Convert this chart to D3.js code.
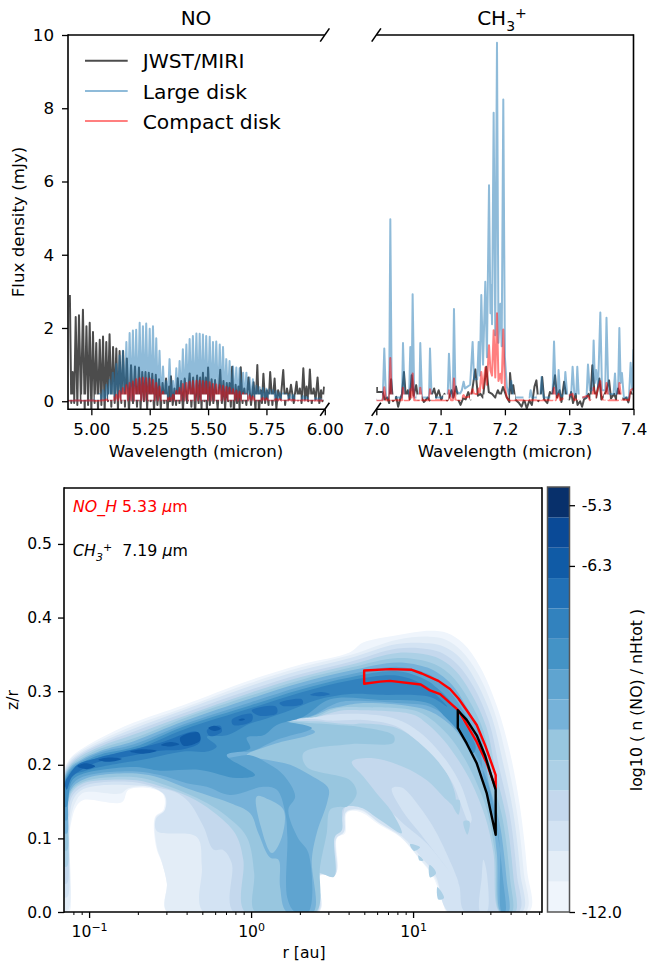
<!DOCTYPE html>
<html>
<head>
<meta charset="utf-8">
<script src="https://cdn.jsdelivr.net/npm/d3@7"></script>
<style>
  body { margin: 0; background: #fff; }
  svg { display: block; }
  text { font-family: "DejaVu Sans", sans-serif; fill: #000; }
  .tick text { font-size: 16.7px; }
  .tick line { stroke: #000; stroke-width: 1.3px; }
  .lower .tick text { font-size: 15.6px; }
  .spine { stroke: #000; stroke-width: 1.6px; fill: none; }
  .spec { fill: none; stroke-linejoin: round; stroke-width: 2px; }
</style>
</head>
<body>
<div id="chart"></div>
<script>
// NO panel: model lines and JWST teeth (wavelength in micron, flux in mJy)
var noModelWave = [
  5.021,5.035,5.050,5.064,5.078,5.092,5.107,5.121,5.135,5.150,
  5.164,5.178,5.192,5.207,5.221,5.235,5.250,5.264,5.278,5.292,
  5.307,5.321,5.335,5.350,5.364,5.378,5.392,5.407,5.421,5.435,
  5.450,5.464,5.478,5.492,5.507,5.521,5.535,5.550,5.564,5.578,
  5.592,5.607,5.621,5.635,5.650,5.664,5.678,5.692,5.707,5.721,
  5.735,5.750,5.764,5.778,5.792,5.807,5.821,5.835,5.850,5.864,
  5.878,5.892,5.907,5.921,5.935,5.950,5.964,5.978,5.992];
var noBluePeak = [
  .12,.2,.3,.45,.58,.78,1.02,1.25,1.38,1.62,
  1.86,1.93,1.95,2.14,2.05,2.12,1.98,2.05,1.72,1.38,
  .95,.55,1.15,.55,.9,1.1,1.42,1.55,1.7,1.78,
  1.85,1.84,1.82,1.78,1.76,1.62,1.63,1.55,1.48,1.15,
  1.1,.95,.92,.9,.78,.78,.65,.6,.42,.38,
  .36,.34,.32,.3,.27,.24,.22,.2,.18,.17,
  .16,.15,.14,.12,.11,.1,.09,.08,.07];
var noRedPeak = [
  .01,.02,.03,.05,.08,.13,.18,.28,.36,.44,
  .5,.54,.6,.63,.64,.63,.62,.58,.5,.4,
  .26,.12,.1,.18,.28,.36,.47,.5,.53,.55,
  .56,.56,.55,.54,.52,.47,.46,.44,.42,.39,
  .37,.33,.29,.26,.22,.19,.16,.13,.11,.1,
  .09,.08,.07,.07,.06,.06,.05,.05,.05,.04,
  .04,.04,.03,.03,.03,.03,.02,.02,.02];
var noJwstWave = [
  4.908,4.920,4.933,4.947,4.964,4.979,4.993,5.007,5.021,5.036,
  5.050,5.064,5.078,5.093,5.107,5.121,5.136,5.152,5.170,5.187,
  5.204,5.218,5.232,5.246,5.261,5.276,5.290,5.305,5.320,5.333,
  5.341,5.356,5.370,5.385,5.400,5.421,5.436,5.453,5.466,5.478,
  5.490,5.500,5.515,5.530,5.552,5.566,5.580,5.592,5.603,5.618,
  5.630,5.640,5.655,5.673,5.695,5.711,5.725,5.737,5.752,5.766,
  5.785,5.800,5.822,5.838,5.855,5.879,5.893,5.908,5.922,5.936,
  5.952,5.969,5.984,5.997];
var noJwstPeak = [
  2.9,.8,2.3,2.35,2.5,2.05,2.14,1.89,1.59,1.68,
  1.77,1.62,1.83,1.48,1.44,1.37,1.37,1.17,.98,.95,
  .92,.8,.8,.78,.75,.72,.6,.5,.62,.4,
  .68,.35,.63,.55,.62,.76,.65,.7,.65,.78,
  .65,.92,.6,.58,.86,.55,.5,.5,.94,.45,
  .4,.93,.35,.65,.52,.99,.3,.75,.3,.8,
  .62,.3,.85,.35,.45,.53,.35,.9,.4,.87,
  .35,.65,.3,.4];
var noJwstLow = [
  -.05,-.05,-.1,-.05,-.25,-.1,-.3,-.05,-.25,-.1,
  -.3,0,-.15,-.05,-.25,-.05,-.15,-.3,-.05,-.15,
  -.2,0,-.2,0,-.25,-.1,-.2,-.05,-.3,0,
  -.1,-.1,-.05,-.25,-.05,-.15,-.3,-.05,-.2,0,
  -.25,-.1,-.05,-.2,-.05,-.2,0,-.15,-.3,-.05,
  -.2,-.05,-.1,-.1,-.25,-.3,-.05,-.05,-.1,-.1,
  -.2,.05,-.1,.05,-.05,.05,-.05,.05,0,-.05,
  .05,-.05,0,.02];

// CH3+ panel, [wavelength, flux]
var chJwst = [[7.001,.39],[7.001,.25],[7.010,.25],[7.013,.05],[7.017,.1],[7.020,-.05],[7.023,.6],[7.026,0],[7.031,.12],[7.034,-.15],
  [7.037,.05],[7.040,.2],[7.043,.8],[7.046,.1],[7.049,.3],[7.052,.05],[7.055,.71],[7.058,.15],[7.062,.44],[7.065,.05],
  [7.070,.12],[7.074,-.02],[7.080,.1],[7.083,.02],[7.090,.35],[7.093,.1],[7.097,.3],[7.101,.05],[7.106,.2],[7.110,.02],
  [7.113,.1],[7.117,.3],[7.120,.1],[7.124,.4],[7.128,.02],[7.131,-.1],[7.135,.08],[7.139,.05],[7.143,.25],[7.147,.05],
  [7.150,.4],[7.154,.87],[7.158,.15],[7.162,.2],[7.166,.1],[7.171,.94],[7.175,.25],[7.180,.2],[7.185,.1],[7.189,.3],
  [7.193,.15],[7.197,.39],[7.203,.1],[7.207,-.02],[7.208,.77],[7.211,.2],[7.213,.44],[7.216,.05],[7.222,-.05],[7.226,-.15],
  [7.230,.05],[7.234,-.2],[7.238,.02],[7.242,-.1],[7.246,.4],[7.249,.57],[7.252,0],[7.256,.2],[7.258,.66],[7.261,.05],
  [7.266,-.05],[7.270,.25],[7.273,.1],[7.278,.71],[7.281,.1],[7.285,.3],[7.288,-.02],[7.292,.53],[7.296,.1],[7.300,.05],
  [7.303,.25],[7.306,-.05],[7.310,.2],[7.313,-.1],[7.317,0],[7.320,-.15],[7.323,.05],[7.327,.1],[7.330,.2],[7.333,.05],
  [7.336,.98],[7.339,.3],[7.342,.1],[7.347,.62],[7.350,.05],[7.354,.15],[7.358,.3],[7.362,.57],[7.365,.08],[7.370,.2],
  [7.373,.05],[7.376,.35],[7.380,.1],[7.385,.05],[7.389,.1],[7.392,-.03],[7.396,.25],[7.399,.1]];
var chBlue = [[7.000,.05],[7.010,.05],[7.0124,1.44],[7.015,.1],[7.020,.1],[7.0218,4.97],[7.024,.1],[7.040,.1],[7.0415,1.59],[7.044,.15],
  [7.051,.15],[7.0529,1.48],[7.055,.3],[7.0565,2.92],[7.059,.1],[7.067,.1],[7.0684,1.59],[7.071,.1],[7.082,.1],[7.0835,1.44],
  [7.086,.1],[7.111,.1],[7.113,1.3],[7.116,.15],[7.119,.1],[7.1208,2.52],[7.123,.3],[7.130,.2],[7.133,.3],[7.1358,.53],
  [7.138,.35],[7.146,.45],[7.1498,1.62],[7.152,.6],[7.157,.6],[7.1592,1.62],[7.161,.7],[7.1633,2.9],[7.166,1.0],[7.1695,3.26],
  [7.172,1.2],[7.1753,5.9],[7.1775,2.4],[7.1788,3.17],[7.180,2.1],[7.1825,7.88],[7.185,1.8],[7.1877,9.79],[7.190,1.6],[7.1929,2.66],
  [7.195,1.5],[7.1975,8.24],[7.200,1.2],[7.203,.4],[7.206,.2],[7.210,.55],[7.213,.1],[7.238,.1],[7.240,.3],[7.242,.1],
  [7.255,.1],[7.257,.66],[7.260,.1],[7.274,.1],[7.2764,1.63],[7.279,.2],[7.282,.2],[7.2835,.85],[7.286,.15],[7.292,.15],
  [7.294,.8],[7.297,.15],[7.303,.15],[7.3053,.94],[7.308,.2],[7.311,.2],[7.3126,.94],[7.315,.1],[7.327,.1],[7.3292,1.0],
  [7.332,.3],[7.336,.3],[7.338,1.66],[7.340,.5],[7.342,.85],[7.345,.4],[7.3484,2.42],[7.351,.3],[7.356,.3],[7.358,2.28],
  [7.361,.2],[7.369,.2],[7.3712,.76],[7.373,.2],[7.376,.2],[7.378,2.0],[7.380,.5],[7.382,.77],[7.385,.1],[7.393,.1],
  [7.3955,1.05],[7.398,.3],[7.400,1.42]];
var chRed = [[7.000,.03],[7.010,.03],[7.0124,.38],[7.015,.03],[7.020,.03],[7.0218,1.18],[7.024,.03],[7.040,.03],[7.0415,.37],[7.044,.03],
  [7.051,.03],[7.0529,.33],[7.055,.1],[7.0565,.76],[7.059,.03],[7.067,.03],[7.0684,.37],[7.071,.03],[7.082,.03],[7.0835,.33],
  [7.086,.03],[7.111,.03],[7.113,.3],[7.116,.03],[7.119,.03],[7.1208,.62],[7.123,.05],[7.130,.03],[7.133,.1],[7.1358,.17],
  [7.138,.1],[7.146,.13],[7.1498,.33],[7.152,.2],[7.157,.2],[7.1592,.35],[7.161,.25],[7.1633,.8],[7.166,.35],[7.1695,.92],
  [7.172,.45],[7.1753,1.53],[7.1775,.85],[7.180,.7],[7.1825,1.94],[7.185,.65],[7.1877,2.4],[7.190,.55],[7.1929,.75],[7.195,.5],
  [7.1975,1.96],[7.200,.4],[7.203,.1],[7.206,.03],[7.274,.03],[7.2764,.37],[7.279,.03],[7.2835,.2],[7.286,.03],[7.3053,.2],
  [7.308,.03],[7.3292,.15],[7.332,.03],[7.336,.1],[7.338,.37],[7.341,.1],[7.3484,.55],[7.351,.05],[7.356,.05],[7.358,.5],
  [7.361,.03],[7.376,.03],[7.378,.5],[7.381,.05],[7.393,.03],[7.3955,.3],[7.400,.35]];
var baselineFlux = 0.115;

// tick labels
var noTicks = ["5.00","5.25","5.50","5.75","6.00"];
var chTicks = ["7.0","7.1","7.2","7.3","7.4"];
var fluxTicks = [0,2,4,6,8,10];
var legendNames = ["JWST/MIRI","Large disk","Compact disk"];
var rMajor = [0.1,1,10];
var rMinor = [.08,.09,.2,.3,.4,.5,.6,.7,.8,.9,2,3,4,5,6,7,8,9,20,30,40,50,60];
var zTicks = [0,.1,.2,.3,.4,.5];
var cbTicks = [-5.3,-6.3,-12.0];

// abundance bands bottom to top, log10 n(NO)/nHtot from -12 to -5
var levelColors = ["#eff5fc","#e3edf7","#d3e3f3","#c4d8ed","#acd0e6","#98c6df","#76b2d9",
  "#5fa4d0","#4493c6","#3282be","#2170b6","#105ba6","#0a4a97","#08306b"];

// contour regions, [log10 r, z/r]
var level1 = [[-1.154,0],[-1.122,0],[-1.128,.088],[-1.111,.121],[-1.08,.143],[-1.035,.152],[-.798,.149],[-.757,.166],[-.623,.168],[-.541,.159],[-.541,.139],[-.593,.129],[-.586,.088],[-.551,.067],[-.52,.039],[-.52,0],
  [.42,0],[.42,.048],[.525,.053],[.531,.101],[.58,.107],[.593,.135],[.673,.136],[.796,.118],[.92,.102],[1.043,.071],[1.123,.048],[1.185,.012],[1.21,0],[1.716,0],
  [1.704,.057],[1.66,.143],[1.599,.216],[1.519,.279],[1.414,.333],[1.309,.365],[1.21,.379],[1.105,.382],[.901,.376],[.691,.366],[.611,.353],[.302,.336],[-.006,.315],[-.42,.281],[-.728,.257],[-.932,.236],[-1.056,.22],[-1.117,.209],[-1.148,.197],[-1.154,.193]];
var level2 = [[-1.154,.191],[-1.116,.207],[-1.055,.218],[-.931,.233],[-.727,.253],[-.419,.277],[-.005,.311],[.302,.332],[.612,.349],[.902,.37],[1.102,.374],[1.202,.37],[1.298,.355],[1.4,.324],[1.502,.272],[1.577,.209],[1.639,.139],[1.683,.055],[1.695,0],
  [1.214,0],[1.193,.012],[1.131,.048],[1.047,.071],[.924,.102],[.796,.12],[.673,.138],[.585,.135],[.57,.108],[.525,.099],[.523,.053],[.42,.049],[.418,0],[-.517,0],[-.52,.039],[-.551,.068],[-.582,.089],[-.588,.129],[-.535,.138],[-.535,.159],[-.623,.17],[-.757,.168],[-.804,.161],[-1.035,.162],[-1.086,.148],[-1.117,.12],[-1.128,.003],[-1.154,.003]];
var level3 = [[-1.154,.189],[-1.114,.205],[-1.053,.216],[-.931,.23],[-.727,.249],[-.419,.274],[-.005,.307],[.302,.328],[.612,.345],[.902,.364],[1.099,.365],[1.195,.36],[1.287,.346],[1.385,.315],[1.486,.265],[1.555,.203],[1.618,.136],[1.662,.053],[1.674,0],
  [1.222,0],[1.142,.048],[1.06,.072],[.93,.103],[.8,.12],[.677,.139],[.586,.136],[.574,.109],[.525,.1],[.519,.05],[.418,.05],[.414,0],[-.294,0],[-.304,.062],[-.335,.102],[-.582,.11],[-.586,.127],[-.531,.139],[-.531,.158],[-.623,.17],[-.706,.172],[-.932,.172],[-1.035,.167],[-1.093,.155],[-1.123,.125],[-1.132,.021],[-1.154,.02]];
var level4 = [[-1.154,.186],[-1.113,.203],[-1.052,.214],[-.93,.228],[-.726,.245],[-.418,.27],[-.004,.302],[.302,.323],[.613,.34],[.903,.358],[1.097,.357],[1.187,.351],[1.276,.336],[1.371,.307],[1.469,.258],[1.532,.196],[1.597,.132],[1.641,.051],[1.653,0],
  [1.321,0],[1.28,.039],[1.187,.066],[1.085,.093],[.961,.116],[.838,.139],[.693,.149],[.591,.146],[.549,.116],[.498,.107],[.498,.05],[.405,.053],[.409,0],[-.109,0],[-.119,.066],[-.171,.084],[-.233,.085],[-.294,.116],[-.387,.15],[-.469,.163],[-.562,.168],[-.706,.176],[-.932,.176],[-1.035,.171],[-1.097,.16],[-1.128,.139],[-1.135,.039],[-1.154,.039]];
var level5 = [[-1.154,.184],[-1.112,.201],[-1.05,.212],[-.929,.225],[-.725,.241],[-.417,.266],[-.003,.298],[.302,.319],[.614,.336],[.904,.352],[1.094,.349],[1.18,.342],[1.265,.327],[1.356,.298],[1.453,.251],[1.51,.19],[1.575,.129],[1.619,.049],[1.631,0],
  [1.533,0],[1.496,.08],[1.444,.13],[1.362,.175],[1.28,.206],[1.187,.234],[1.085,.256],[1.002,.268],[.693,.274],[.57,.274],[.488,.27],[.385,.264],[.117,.261],[.405,.259],[.611,.255],[.693,.256],[.899,.25],[1.023,.234],[1.105,.222],[1.198,.193],[1.259,.161],[1.259,.143],[1.208,.152],[1.085,.179],[.941,.197],[.755,.209],[.622,.204],[.693,.184],[.776,.161],[.869,.136],[.93,.107],[.796,.125],[.673,.142],[.57,.141],[.56,.111],[.517,.102],[.512,.048],[.415,.052],[.405,0],[-.037,0],[-.048,.071],[-.099,.107],[-.233,.136],[-.387,.157],[-.562,.171],[-.706,.179],[-.932,.179],[-1.035,.175],[-1.097,.165],[-1.128,.148],[-1.135,.062],[-1.154,.062]];
var level6 = [[-1.154,.182],[-1.11,.2],[-1.049,.209],[-.929,.222],[-.725,.236],[-.417,.263],[-.003,.294],[.302,.315],[.614,.332],[.904,.345],[1.091,.34],[1.172,.332],[1.254,.317],[1.342,.289],[1.436,.245],[1.488,.183],[1.554,.125],[1.598,.047],[1.61,0],
  [1.537,0],[1.506,.08],[1.455,.139],[1.393,.175],[1.311,.211],[1.218,.24],[1.105,.263],[1.002,.274],[.693,.278],[.57,.278],[.488,.274],[.385,.264],[.122,.262],[.611,.253],[.652,.252],[.879,.24],[.879,.23],[.611,.228],[.323,.216],[.344,.197],[.611,.179],[.652,.161],[.591,.143],[.549,.143],[.488,.139],[.467,.107],[.426,.062],[.399,0],[.025,0],[.019,.053],[-.027,.102],[-.15,.13],[-.273,.148],[-.397,.161],[-.562,.175],[-.706,.183],[-.932,.182],[-1.035,.177],[-1.097,.168],[-1.128,.152],[-1.135,.084],[-1.154,.084]];
var level7 = [[-1.154,.18],[-1.109,.198],[-1.047,.207],[-.928,.219],[-.724,.232],[-.416,.259],[-.002,.29],[.302,.311],[.615,.328],[.905,.339],[1.088,.332],[1.165,.323],[1.243,.308],[1.327,.28],[1.42,.238],[1.466,.177],[1.533,.122],[1.577,.045],[1.589,0],
  [1.541,0],[1.517,.08],[1.475,.143],[1.424,.18],[1.352,.216],[1.27,.245],[1.167,.265],[1.043,.277],[.693,.284],[.568,.28],[.488,.276],[.364,.265],[.128,.262],[.395,.245],[.138,.228],[-.027,.213],[.097,.207],[.241,.2],[.364,.186],[.477,.168],[.471,.15],[.405,.107],[.375,.071],[.385,0],[.22,0],[.179,.034],[.169,.071],[.117,.074],[.045,.107],[-.006,.134],[-.13,.148],[-.273,.159],[-.397,.168],[-.562,.182],[-.706,.188],[-.932,.186],[-1.035,.18],[-1.097,.171],[-1.128,.157],[-1.135,.107],[-1.154,.107]];
var level8 = [[-1.154,.177],[-1.108,.196],[-1.046,.205],[-.927,.217],[-.723,.228],[-.415,.255],[-.001,.285],[.302,.306],[.616,.323],[.906,.333],[1.086,.324],[1.157,.314],[1.232,.298],[1.313,.272],[1.403,.231],[1.444,.17],[1.512,.118],[1.556,.043],[1.568,0],
  [1.547,0],[1.537,.08],[1.527,.107],[1.506,.135],[1.455,.18],[1.393,.211],[1.321,.238],[1.228,.261],[1.105,.279],[.899,.284],[.568,.286],[.488,.28],[.364,.266],[.128,.263],[.375,.25],[.159,.234],[-.006,.218],[-.15,.218],[-.16,.21],[-.006,.213],[.117,.2],[.2,.186],[.272,.157],[.23,.139],[.286,.102],[.354,.08],[.354,0],[.272,0],[.224,.019],[.224,.102],[.21,.136],[.159,.166],[.076,.17],[-.13,.159],[-.273,.17],[-.397,.175],[-.562,.186],[-.706,.191],[-.932,.189],[-1.035,.184],[-1.097,.175],[-1.128,.161],[-1.135,.125],[-1.154,.125]];
var level9 = [[-1.154,.175],[-1.106,.194],[-1.044,.203],[-.927,.214],[-.723,.224],[-.415,.252],[-.001,.281],[.302,.302],[.616,.319],[.906,.327],[1.083,.315],[1.15,.304],[1.221,.289],[1.298,.263],[1.387,.224],
  [1.372,.216],[1.29,.243],[1.198,.265],[1.105,.283],[.796,.288],[.488,.289],[.321,.265],[.159,.254],[.076,.24],[-.027,.237],[-.006,.222],[-.15,.213],[.025,.186],[-.088,.182],[-.315,.193],[-.562,.192],[-.706,.197],[-.932,.193],[-1.035,.188],[-1.107,.178],[-1.138,.143],[-1.154,.143]];
var level10 = [[-1.154,.173],[-1.105,.192],[-1.043,.201],[-.926,.211],[-.722,.22],[-.414,.248],[0,.277],[.302,.298],[.617,.315],[.907,.321],[1.08,.307],[1.142,.295],[1.21,.279],
  [1.105,.292],[.796,.295],[.611,.296],[.405,.288],[.241,.274],[.097,.263],[-.006,.256],[-.15,.24],[-.273,.238],[-.212,.225],[-.273,.218],[-.418,.218],[-.623,.209],[-.932,.197],[-1.035,.191],[-1.117,.184],[-1.144,.17],[-1.154,.17]];
var level11 = [[-1.148,.175],[-1.117,.188],[-1.066,.201],[-.953,.209],[-.767,.219],[-.562,.23],[-.335,.245],[-.315,.231],[-.418,.221],[-.562,.219],[-.747,.212],[-.953,.203],[-1.056,.192],[-1.107,.183],[-1.138,.166]];
var ridgeSpots = [
  [[-.273,.247],[-.191,.253],[-.181,.245],[-.253,.239]],
  [[-.119,.261],[.004,.269],[.004,.259],[-.109,.254]],
  [[.004,.274],[.154,.279],[.159,.27],[.045,.267]],
  [[.175,.284],[.313,.289],[.319,.283],[.196,.28]],
  [[.364,.295],[.426,.299],[.488,.296],[.426,.293]]];
var coreSpots = [
  [[-1.072,.198],[-1.025,.202],[-.963,.198],[-1.014,.194]],
  [[-.943,.207],[-.87,.21],[-.798,.208],[-.881,.204]],
  [[-.747,.218],[-.665,.221],[-.582,.219],[-.665,.215]],
  [[-.556,.227],[-.5,.231],[-.443,.228],[-.504,.225]],
  [[-.438,.237],[-.325,.244],[-.315,.233],[-.418,.226]],
  [[-.264,.25],[-.222,.253],[-.187,.249],[-.228,.246]],
  [[-.078,.261],[-.057,.263],[-.037,.262],[-.057,.26]]];
var paleStreak = [[.282,.262],[.405,.265],[.488,.268],[.693,.269],[.899,.262],[1.043,.244],[1.187,.211],[1.29,.175],[1.341,.143],[1.362,.125],[1.348,.12],[1.301,.143],[1.249,.173],[1.156,.204],[1.033,.231],[.889,.253],[.693,.261],[.488,.26],[.405,.262]];
var paleStripe = [[.869,.168],[.93,.169],[1.033,.145],[1.146,.107],[1.28,.039],[1.187,.066],[1.043,.107],[.93,.139]];
var paleSliver = [[1.434,.071],[1.455,.053],[1.455,0],[1.414,0],[1.424,.048]];
var innerIsland = [[.035,.157],[.097,.154],[.2,.139],[.19,.102],[.128,.08],[.06,.116]];
var archSpots = [
  [[1.239,.15],[1.286,.152],[1.28,.132]],
  [[1.311,.123],[1.348,.123],[1.335,.105]],
  [[.981,.092],[1.043,.088],[1.006,.083]],
  [[1.033,.077],[1.064,.07],[1.039,.07]],
  [[1.101,.064],[1.142,.053],[1.105,.047]],
  [[1.15,.034],[1.191,.019],[1.156,.017]]];
var noEmitRegion = [[.698,.328],[.858,.33],[.992,.329],[1.054,.324],[1.156,.314],[1.228,.303],[1.28,.29],[1.331,.274],[1.393,.254],[1.444,.227],[1.51,.186],[1.51,.168],[1.455,.202],[1.393,.231],[1.28,.274],[1.167,.296],[1.105,.301],[1.047,.309],[.858,.314],[.796,.313],[.698,.31]];
var chEmitRegion = [[1.276,.274],[1.331,.261],[1.393,.24],[1.444,.213],[1.51,.166],[1.51,.105],[1.455,.161],[1.393,.202],[1.331,.229],[1.276,.25]];

var width = 647, height = 965;
var svg = d3.select("#chart").append("svg").attr("width", width).attr("height", height);
var defs = svg.append("defs");

var colors = { jwst: "#000", large: "#1f77b4", compact: "#f00" };
var opacities = { jwst: .7, large: .5, compact: .5 };

var fluxY = d3.scaleLinear().domain([-.22, 10]).range([409.3, 35]);
var noX = d3.scaleLinear().domain([4.9, 6.0]).range([68, 324.8]);
var chX = d3.scaleLinear().domain([7.0, 7.4]).range([376.3, 633.5]);
var rX = d3.scaleLog().domain([0.07, 62.5]).range([64, 542]);
var zY = d3.scaleLinear().domain([0, .576]).range([912, 488]);
var cbY = d3.scaleLinear().domain([-12, -5]).range([912, 487]);

function clip(id, x0, y0, x1, y1) {
  defs.append("clipPath").attr("id", id).append("rect")
    .attr("x", x0).attr("y", y0).attr("width", x1 - x0).attr("height", y1 - y0);
}
clip("clipNo", 68, 35, 324.8, 409.3);
clip("clipCh", 376.3, 35, 633.5, 409.3);
clip("clipMap", 64, 488, 542, 912);

function segment(x1, y1, x2, y2) {
  svg.append("line").attr("class", "spine")
    .attr("x1", x1).attr("y1", y1).attr("x2", x2).attr("y2", y2);
}

// teeth between peaks, trough x sits halfway to the next peak
function comb(waves, peaks, lows) {
  var pts = [];
  waves.forEach(function(w, i) {
    pts.push([w, peaks[i]]);
    if (i < waves.length - 1) {
      pts.push([(w + waves[i + 1]) / 2, lows === +lows ? lows : lows[i]]);
    }
  });
  return pts;
}

function drawSpectrum(g, x, data, key, strokeWidth) {
  var line = d3.line().x(function(d) { return x(d[0]); }).y(function(d) { return fluxY(d[1]); });
  g.append("path")
    .attr("class", "spec")
    .attr("d", line(data))
    .attr("stroke", colors[key])
    .attr("stroke-opacity", opacities[key])
    .attr("stroke-width", strokeWidth);
}

function drawBaselineGap(g, x) {
  g.append("line")
    .attr("x1", x.range()[0]).attr("x2", x.range()[1])
    .attr("y1", fluxY(baselineFlux)).attr("y2", fluxY(baselineFlux))
    .attr("stroke", "#fff").attr("stroke-width", 5.2)
    .attr("stroke-dasharray", "5.2 8.18");
}

// top left panel
var noG = svg.append("g").attr("clip-path", "url(#clipNo)");
drawSpectrum(noG, noX, comb(noJwstWave, noJwstPeak, noJwstLow), "jwst", 2.6);
drawSpectrum(noG, noX, [[4.9, .02], [5.01, .02]].concat(comb(noModelWave, noBluePeak, .02)), "large", 3.4);
drawSpectrum(noG, noX, [[4.9, .02], [5.01, .02]].concat(comb(noModelWave, noRedPeak, .02)), "compact", 3.4);
drawBaselineGap(noG, noX);

// top right panel
var chG = svg.append("g").attr("clip-path", "url(#clipCh)");
drawSpectrum(chG, chX, chJwst, "jwst", 2.2);
drawSpectrum(chG, chX, chBlue, "large", 2);
drawSpectrum(chG, chX, chRed, "compact", 2);
drawBaselineGap(chG, chX);

function xAxisAt(scale, values, labels, y) {
  var axis = d3.axisBottom(scale).tickValues(values).tickSize(6).tickSizeOuter(0).tickPadding(8)
    .tickFormat(function(d, i) { return labels[i]; });
  var g = svg.append("g").attr("transform", "translate(0," + y + ")").call(axis);
  g.select(".domain").remove();
  return g;
}

xAxisAt(noX, [5, 5.25, 5.5, 5.75, 6], noTicks, 409.3);
xAxisAt(chX, [7, 7.1, 7.2, 7.3, 7.4], chTicks, 409.3);

var fluxAxis = svg.append("g").attr("transform", "translate(68,0)")
  .call(d3.axisLeft(fluxY).tickValues(fluxTicks).tickSize(6).tickSizeOuter(0).tickPadding(8));
fluxAxis.select(".domain").remove();

segment(68, 35, 324.8, 35);
segment(68, 409.3, 324.8, 409.3);
segment(68, 34.2, 68, 410.1);
segment(376.3, 35, 633.5, 35);
segment(376.3, 409.3, 633.5, 409.3);
segment(633.5, 34.2, 633.5, 410.1);
[[324.8, 35], [324.8, 409.3], [376.3, 35], [376.3, 409.3]].forEach(function(p) {
  segment(p[0] - 4.6, p[1] + 6.6, p[0] + 4.6, p[1] - 6.6);
});

function label(x, y, text, size, anchor) {
  return svg.append("text").attr("x", x).attr("y", y).attr("font-size", size)
    .attr("text-anchor", anchor || "middle").text(text);
}

label(196, 457, "Wavelength (micron)", 16.7);
label(505, 457, "Wavelength (micron)", 16.7);
label(0, 0, "Flux density (mJy)", 16.7).attr("transform", "translate(24,222) rotate(-90)");
label(196, 25, "NO", 20);

var chTitle = label(502, 25, "CH", 20);
chTitle.append("tspan").attr("dy", 6).attr("font-size", 14).text("3");
chTitle.append("tspan").attr("dy", -13).attr("font-size", 14).text("+");

// legend
legendNames.forEach(function(name, i) {
  var key = ["jwst", "large", "compact"][i];
  var y = [60.7, 91, 121][i];
  svg.append("line")
    .attr("x1", 85).attr("x2", 127.7).attr("y1", y).attr("y2", y)
    .attr("stroke", colors[key]).attr("stroke-opacity", opacities[key]).attr("stroke-width", 2);
  label(142.7, y + 7.5, name, 20.3, "start");
});

// bottom panel
var mapG = svg.append("g").attr("clip-path", "url(#clipMap)");
var region = d3.line()
  .x(function(d) { return rX(Math.pow(10, d[0])); })
  .y(function(d) { return zY(d[1]); });
var smoothRegion = d3.line()
  .curve(d3.curveCatmullRomClosed.alpha(.5))
  .x(function(d) { return rX(Math.pow(10, d[0])); })
  .y(function(d) { return zY(d[1]); });

function fillRegion(points, level) {
  mapG.append("path").attr("d", smoothRegion(points)).attr("fill", levelColors[level - 1]);
}

[level1, level2, level3, level4, level5, level6, level7, level8, level9, level10].forEach(function(points, i) {
  fillRegion(points, i + 1);
});
fillRegion(paleStreak, 3);
fillRegion(paleStripe, 3);
fillRegion(paleSliver, 3);
archSpots.forEach(function(points) { fillRegion(points, 5); });
fillRegion(innerIsland, 6);
fillRegion(level11, 11);
ridgeSpots.forEach(function(points) { fillRegion(points, 11); });
coreSpots.forEach(function(points) { fillRegion(points, 12); });

[[noEmitRegion, "#f00"], [chEmitRegion, "#000"]].forEach(function(item) {
  mapG.append("path").attr("d", region(item[0]) + "Z")
    .attr("fill", "none").attr("stroke", item[1]).attr("stroke-width", 2.4).attr("stroke-linejoin", "round");
});

var rAxisMajor = svg.append("g").attr("class", "lower").attr("transform", "translate(0,912)")
  .call(d3.axisBottom(rX).tickValues(rMajor).tickSize(6).tickFormat(""));
rAxisMajor.select(".domain").remove();
rAxisMajor.selectAll(".tick text").each(function(d) {
  var t = d3.select(this);
  var power = Math.round(Math.log10(d));
  t.attr("y", 25).attr("dy", 0);
  t.append("tspan").text("10");
  t.append("tspan").attr("dy", -6.5).style("font-size", "11px").text(power < 0 ? "\u2212" + Math.abs(power) : power);
});
var rAxisMinor = svg.append("g").attr("transform", "translate(0,912)")
  .call(d3.axisBottom(rX).tickValues(rMinor).tickSize(3).tickFormat(""));
rAxisMinor.select(".domain").remove();
rAxisMinor.selectAll(".tick line").style("stroke-width", "1px");

var zAxis = svg.append("g").attr("class", "lower").attr("transform", "translate(64,0)")
  .call(d3.axisLeft(zY).tickValues(zTicks).tickSize(6).tickPadding(6).tickFormat(d3.format(".1f")));
zAxis.select(".domain").remove();

segment(64, 488, 542, 488);
segment(64, 912, 542, 912);
segment(64, 487.2, 64, 912.8);
segment(542, 487.2, 542, 912.8);

label(304, 958, "r [au]", 15.6);
label(0, 0, "z/r", 15.6).attr("transform", "translate(18,700) rotate(-90)");

var noteA = label(73, 512, "", 15.8, "start").style("fill", "#f00");
noteA.append("tspan").attr("font-style", "italic").text("NO_H");
noteA.append("tspan").text(" 5.33 ");
noteA.append("tspan").attr("font-style", "italic").text("\u03bc");
noteA.append("tspan").text("m");

var noteB = label(73, 556, "", 15.8, "start");
noteB.append("tspan").attr("font-style", "italic").text("CH");
noteB.append("tspan").attr("font-style", "italic").attr("dy", 4.5).attr("font-size", 11).text("3");
noteB.append("tspan").attr("dy", -10).attr("font-size", 11).text("+");
noteB.append("tspan").attr("dy", 5.5).text("\u00a0\u00a07.19 ");
noteB.append("tspan").attr("font-style", "italic").text("\u03bc");
noteB.append("tspan").text("m");

// colorbar
levelColors.forEach(function(color, i) {
  svg.append("rect")
    .attr("x", 547.5).attr("width", 22)
    .attr("y", cbY(-12 + (i + 1) * .5))
    .attr("height", cbY(-12 + i * .5) - cbY(-12 + (i + 1) * .5))
    .attr("fill", color);
});
svg.append("rect").attr("x", 547.5).attr("y", 487).attr("width", 22).attr("height", 425)
  .attr("fill", "none").attr("stroke", "#555").attr("stroke-width", 1.5);
var cbAxis = svg.append("g").attr("class", "lower").attr("transform", "translate(569.5,0)")
  .call(d3.axisRight(cbY).tickValues(cbTicks).tickSize(5.5).tickPadding(6.7));
cbAxis.select(".domain").remove();
cbAxis.selectAll(".tick text").text(function(d) { return d.toFixed(1); });
label(0, 0, "log10 ( n (NO) / nHtot )", 15.8).attr("transform", "translate(642,700) rotate(-90)");
</script>
</body>
</html>
